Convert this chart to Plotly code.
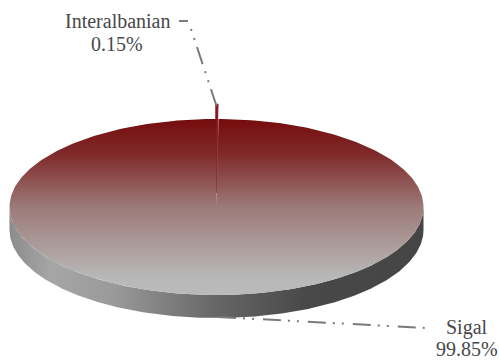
import numpy as np
import plotly.graph_objects as go

categories = ["Interalbanian", "Sigal"]
values = [0.15, 99.85]
percent_labels = ["0.15%", "99.85%"]

CX, CY, RX, RY, DEPTH, EXPLODE = 216.5, 207, 207, 88, 23, 14
FONT = "Liberation Serif"
sweeps = [v / sum(values) * 2 * np.pi for v in values]


def arc(t0, t1, cy=CY, n=360):
    t = np.linspace(t0, t1, n)
    return CX + RX * np.sin(t), cy - RY * np.cos(t)


fig = go.Figure()

# side wall (front half of the rim)
xa, ya = arc(np.pi / 2, 3 * np.pi / 2)
xb, yb = arc(3 * np.pi / 2, np.pi / 2, cy=CY + DEPTH)
fig.add_trace(go.Scatter(
    x=np.r_[xa, xb], y=np.r_[ya, yb], mode="lines", fill="toself", line_width=0,
    fillgradient=dict(type="horizontal", colorscale=[
        [0, "#8c8c8c"], [0.1, "#a6a6a6"], [0.25, "#9a9a9a"], [0.5, "#666666"],
        [0.72, "#484848"], [1, "#454545"]]),
    hoverinfo="skip", showlegend=False))

top_scale = [[0, "#bababa"], [0.1, "#b8b8b8"], [0.5, "#9c7a78"], [0.8, "#7f2a2a"], [1, "#760c0c"]]

# small exploded slice
sx, sy = arc(0, sweeps[0], cy=CY - EXPLODE, n=6)
fig.add_trace(go.Scatter(
    x=np.r_[CX, sx], y=np.r_[CY - EXPLODE, sy], mode="lines", fill="toself",
    line=dict(color="#8a1c20", width=2.5),
    hoverinfo="skip", showlegend=False, fillcolor="#8a1c20"))

# main slice
mx, my = arc(sweeps[0], 2 * np.pi)
fig.add_trace(go.Scatter(
    x=np.r_[CX, mx], y=np.r_[CY, my], mode="lines", fill="toself", line_width=0,
    fillgradient=dict(type="vertical", colorscale=top_scale),
    hoverinfo="skip", showlegend=False))

# leader lines
LINE = "#7a7a7a"
for xs, ys, dash in [
    ([179, 188], [21, 21], "solid"),
    ([191, 216.5], [29, 106], "2px,7.5px,2px,7.5px,18px,7.5px"),
    ([218, 427], [317, 328], "18px,7px,2px,7px,2px,9px"),
]:
    fig.add_trace(go.Scatter(x=xs, y=ys, mode="lines",
                             line=dict(color=LINE, width=2, dash=dash),
                             hoverinfo="skip", showlegend=False))

for text, x, y in [(categories[0], 118, 21), (percent_labels[0], 117, 44),
                   (categories[1], 467, 327), (percent_labels[1], 466.5, 349)]:
    fig.add_annotation(x=x, y=y, text=text, showarrow=False, xref="x", yref="y",
                       font=dict(family=FONT, size=20, color="#484848"), align="center")

fig.update_layout(
    width=499, height=360, margin=dict(l=0, r=0, t=0, b=0),
    paper_bgcolor="white", plot_bgcolor="white", showlegend=False,
    xaxis=dict(range=[0, 499], visible=False, fixedrange=True),
    yaxis=dict(range=[360, 0], visible=False, fixedrange=True),
)
fig.write_html("out.html", config={"displayModeBar": False},
               post_script="document.body.style.margin='0';document.body.style.overflow='hidden';")
